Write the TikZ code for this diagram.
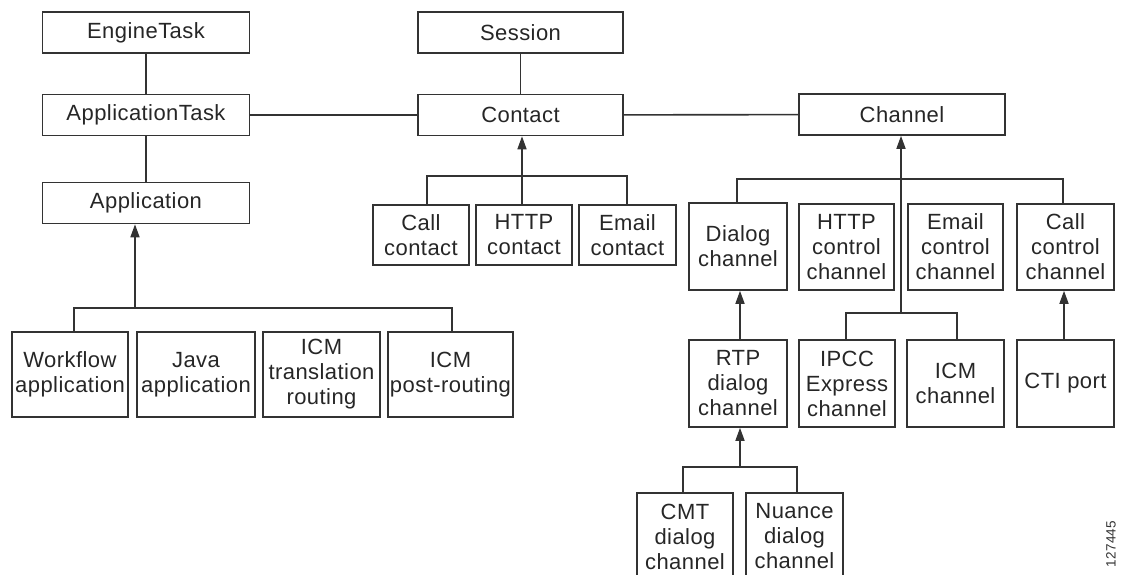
\documentclass[tikz,border=0pt]{standalone}
\usepackage{fontspec}
\setmainfont{Liberation Sans}[LetterSpace=2]
\usetikzlibrary{arrows.meta}
\begin{document}
\begin{tikzpicture}[x=1pt,y=-1pt,
  box/.style={draw=black!80, line width=1.6pt, align=center, inner sep=0pt,
    font=\fontsize{22}{25}\selectfont, text=black!85},
  wide/.style={box, minimum width=207pt, minimum height=41pt},
  conn/.style={draw=black!80, line width=1.6pt},
  arr/.style={conn, -{Triangle[width=9pt,length=13pt]}}]
\useasboundingbox (0,0) rectangle (1124,575);
% top level
\node[wide] (et) at (146,32.5) {EngineTask};
\node[wide] (at) at (146,115) {ApplicationTask};
\node[wide] (app) at (146,203) {Application};
\node[wide, minimum width=205pt] (ses) at (520.5,32.5) {Session};
\node[wide, minimum width=205pt] (con) at (520.5,115) {Contact};
\node[wide, minimum width=206pt] (chn) at (902,114.5) {Channel};
% contacts
\node[box, minimum width=96pt, minimum height=60pt] (cc) at (421,235) {Call\\contact};
\node[box, minimum width=96pt, minimum height=60pt] (hc) at (524,235) {HTTP\\contact};
\node[box, minimum width=97pt, minimum height=60pt] (ec) at (627.5,235) {Email\\contact};
% channels
\node[box, minimum width=98pt, minimum height=87pt] (dc) at (738,246.5) {Dialog\\channel};
\node[box, minimum width=95pt, minimum height=86pt] (hcc) at (846.5,247) {HTTP\\control\\channel};
\node[box, minimum width=95pt, minimum height=86pt] (ecc) at (955.5,247) {Email\\control\\channel};
\node[box, minimum width=97pt, minimum height=86pt] (ccc) at (1065.5,247) {Call\\control\\channel};
\node[box, minimum width=98pt, minimum height=87pt] (rtp) at (738,383.5) {RTP\\dialog\\channel};
\node[box, minimum width=96pt, minimum height=87pt] (ipcc) at (847,383.5) {IPCC\\Express\\channel};
\node[box, minimum width=97pt, minimum height=87pt] (icmc) at (955.5,383.5) {ICM\\channel};
\node[box, minimum width=97pt, minimum height=87pt] (cti) at (1065.5,383.5) {CTI port};
\node[box, minimum width=96pt, minimum height=87pt] (cmt) at (685,536.5) {CMT\\dialog\\channel};
\node[box, minimum width=97pt, minimum height=87pt] (nua) at (794.5,536.5) {Nuance\\dialog\\channel};
% applications
\node[box, minimum width=116pt, minimum height=85pt] (wf) at (70,374.5) {Workflow\\application};
\node[box, minimum width=118pt, minimum height=85pt] (java) at (196,374.5) {Java\\application};
\node[box, minimum width=117pt, minimum height=85pt] (icmt) at (321.5,374.5) {ICM\\translation\\routing};
\node[box, minimum width=125pt, minimum height=85pt] (icmp) at (450.5,374.5) {ICM\\post-routing};
% label
\node[rotate=90, font=\fontsize{13.5}{14}\selectfont, text=black!80, inner sep=0pt] (num) at (1111,544) {127445};
% plain links
\draw[conn] (et) -- (at);
\draw[conn] (at) -- (app);
\draw[conn] (at) -- (con);
\draw[conn] (ses) -- (con);
\draw[conn] (con) -- (chn);
% application tree
\coordinate (appbar) at (135,308);
\draw[conn] (wf.north -| 74,0) |- (appbar) -| (icmp.north -| 452,0);
\draw[conn] (java.north -| 198,0) -- (java.north -| 198,0 |- appbar);
\draw[conn] (icmt.north -| 323,0) -- (icmt.north -| 323,0 |- appbar);
\draw[arr] (appbar) -- (appbar |- app.south);
% contact tree
\coordinate (conbar) at (522,176);
\draw[conn] (cc.north -| 427,0) |- (conbar) -| (ec.north -| 627,0);
\draw[arr] (hc.north -| conbar) -- (con.south -| conbar);
% channel tree
\coordinate (chbar) at (901,179);
\coordinate (chlow) at (901,313);
\draw[conn] (dc.north -| 737,0) |- (chbar) -| (ccc.north -| 1063,0);
\draw[conn] (hcc.north -| 846,0) -- (hcc.north -| 846,0 |- chbar);
\draw[conn] (ecc.north -| 953,0) -- (ecc.north -| 953,0 |- chbar);
\draw[conn] (ipcc.north -| 846,0) |- (chlow) -| (icmc.north -| 957,0);
\draw[arr] (chlow) -- (chn.south -| chlow);
\draw[arr] (rtp.north -| 740,0) -- (dc.south -| 740,0);
\draw[arr] (cti.north -| 1064,0) -- (ccc.south -| 1064,0);
% dialog tree
\coordinate (dbar) at (740,467);
\draw[conn] (cmt.north -| 683,0) |- (dbar) -| (nua.north -| 797,0);
\draw[arr] (dbar) -- (rtp.south -| dbar);
\end{tikzpicture}
\end{document}
